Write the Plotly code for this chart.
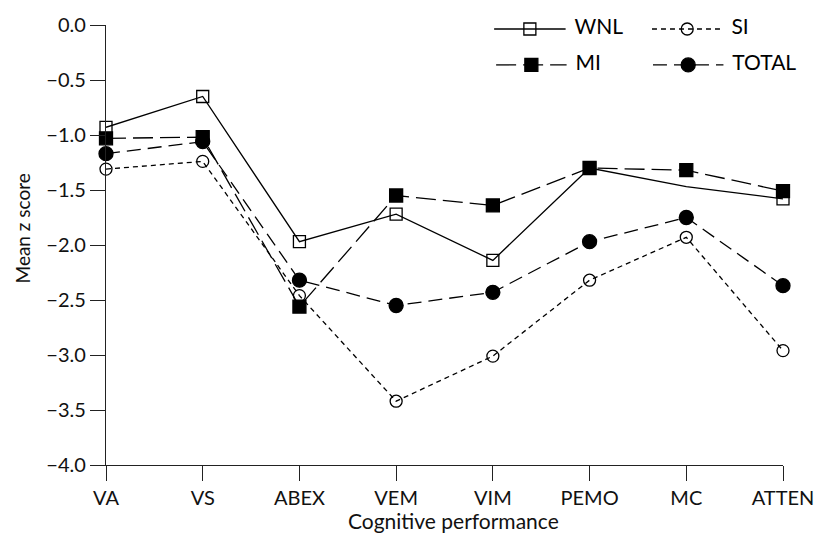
import plotly.graph_objects as go

categories = ["VA", "VS", "ABEX", "VEM", "VIM", "PEMO", "MC", "ATTEN"]
wnl = [-0.93, -0.65, -1.97, -1.72, -2.14, -1.30, -1.47, -1.58]
si = [-1.31, -1.24, -2.46, -3.42, -3.01, -2.32, -1.93, -2.96]
mi = [-1.03, -1.02, -2.56, -1.55, -1.64, -1.30, -1.32, -1.51]
total = [-1.17, -1.06, -2.32, -2.55, -2.43, -1.97, -1.75, -2.37]
series_names = ["WNL", "SI", "MI", "TOTAL"]
y_ticks = [-4.0, -3.5, -3.0, -2.5, -2.0, -1.5, -1.0, -0.5, 0.0]

FONT = "Lato"
INK = "#000000"
AX = "#222222"

styles = {
    "WNL": dict(dash="solid", symbol="square-open", size=12),
    "SI": dict(dash="5px,4px", symbol="circle-open", size=12),
    "MI": dict(dash="20px,7px", symbol="square", size=13),
    "TOTAL": dict(dash="14px,7px", symbol="circle", size=14),
}
values = {"WNL": wnl, "SI": si, "MI": mi, "TOTAL": total}

fig = go.Figure()
for name in series_names:
    st = styles[name]
    sizes = [st["size"]] * len(categories)
    if name == "WNL":
        sizes[categories.index("MC")] = 0  # no marker drawn there in the original
    fig.add_trace(go.Scatter(
        x=categories, y=values[name], name=name, mode="lines+markers",
        line=dict(color=INK, width=1.3, dash=st["dash"]),
        marker=dict(symbol=st["symbol"], size=sizes, color=INK, opacity=1,
                    line=dict(color=INK, width=1.3)),
        cliponaxis=False, showlegend=False,
    ))

# custom legend on an overlay axis in pixel units of the plot area
legend_pos = {"WNL": (497, 569, 28), "SI": (656, 727, 28),
              "MI": (499, 570, 64), "TOTAL": (657, 728, 64)}
for name in series_names:
    st = styles[name]
    x0, x1, yy = legend_pos[name]
    fig.add_trace(go.Scatter(
        x=[x0, x1], y=[yy, yy], mode="lines", xaxis="x2", yaxis="y2",
        line=dict(color=INK, width=1.3, dash=st["dash"]),
        showlegend=False, hoverinfo="skip", cliponaxis=False))
    fig.add_trace(go.Scatter(
        x=[(x0 + x1) / 2], y=[yy], mode="markers", xaxis="x2", yaxis="y2",
        marker=dict(symbol=st["symbol"], size=st["size"], color=INK, opacity=1,
                    line=dict(color=INK, width=1.3)),
        showlegend=False, hoverinfo="skip", cliponaxis=False))
    fig.add_trace(go.Scatter(
        x=[x1 + 9], y=[yy], mode="text", text=[name], textposition="middle right",
        textfont=dict(family=FONT, size=21, color=INK), xaxis="x2", yaxis="y2",
        showlegend=False, hoverinfo="skip", cliponaxis=False))

fig.update_layout(
    width=826, height=533,
    margin=dict(l=106, r=38, t=24, b=68),
    plot_bgcolor="white", paper_bgcolor="white",
    font=dict(family=FONT, size=20, color=INK),
    xaxis=dict(
        type="category", range=[0, 7], showgrid=False, zeroline=False,
        showline=True, linecolor=AX, linewidth=1.3,
        ticks="outside", ticklen=15, tickwidth=1.3, tickcolor=AX,
        tickfont=dict(family=FONT, size=20, color="#111111"),
    ),
    yaxis=dict(
        range=[-4, 0], tickvals=y_ticks, tickformat=".1f",
        showgrid=False, zeroline=False,
        showline=True, linecolor=AX, linewidth=1.3,
        ticks="outside", ticklen=15, tickwidth=1.3, tickcolor=AX,
        tickfont=dict(family=FONT, size=20, color="#111111"),
    ),
    xaxis2=dict(overlaying="x", range=[106, 788], visible=False),
    yaxis2=dict(overlaying="y", range=[465, 24], visible=False),
    annotations=[
        dict(text="Cognitive performance", xref="paper", yref="paper",
             x=0.514, y=0, yshift=-55, xanchor="center", yanchor="middle",
             showarrow=False, font=dict(family=FONT, size=21, color="#111111")),
        dict(text="Mean z score", xref="paper", yref="paper",
             x=-0.123, y=0.537, xanchor="center", yanchor="middle", textangle=-90,
             showarrow=False, font=dict(family=FONT, size=19, color="#111111")),
    ],
)

fig.write_html("out.html", config={"displayModeBar": False},
               post_script="document.body.style.margin='0';document.body.style.overflow='hidden';")
